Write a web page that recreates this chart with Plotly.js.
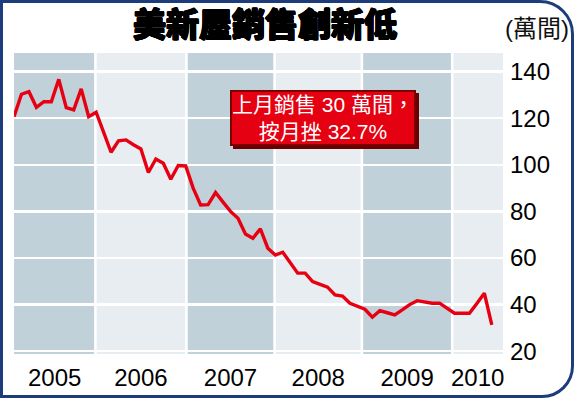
<!DOCTYPE html>
<html>
<head>
<meta charset="utf-8">
<script src="https://cdn.plot.ly/plotly-3.0.1.min.js"></script>
<style>
  html, body { margin: 0; padding: 0; background: #ffffff; }
  #wrap { position: relative; width: 574px; height: 398px; overflow: hidden; }
  #chart { position: absolute; left: 0; top: 0; width: 574px; height: 398px; }
  #frame { position: absolute; left: 0; top: 0; width: 574px; height: 398px; box-sizing: border-box;
           border: 3px solid #1c3c7c; border-top-right-radius: 34px; border-bottom-right-radius: 32px;
           pointer-events: none; }
</style>
</head>
<body>
<div id="wrap"><div id="chart"></div><div id="frame"></div></div>
<script>
// ---- data (US new home sales, 10k units, monthly Jan 2005 – May 2010) ----
const years = ['2005', '2006', '2007', '2008', '2009', '2010'];
const sales2005 = [120.7, 130.3, 131.4, 124.7, 127.1, 127.1, 136.7, 124.5, 123.6, 132.6, 120.7, 122.6];
const sales2006 = [114.0, 105.4, 110.3, 110.7, 108.6, 106.8, 96.7, 102.5, 100.7, 93.8, 99.7, 99.5];
const sales2007 = [90.0, 82.8, 82.9, 88.1, 84.0, 80.0, 77.1, 70.3, 68.5, 72.5, 64.2, 61.3];
const sales2008 = [62.5, 58.0, 53.5, 53.5, 49.9, 48.7, 47.5, 44.2, 43.7, 40.6, 39.3, 38.0];
const sales2009 = [34.6, 37.4, 36.5, 35.6, 37.7, 40.0, 41.7, 41.0, 40.6, 40.6, 38.5, 36.3];
const sales2010 = [36.3, 36.3, 40.5, 44.9, 31.3];
const yTicks = [20, 40, 60, 80, 100, 120, 140];
const titleText = '美新屋銷售創新低';
const unitText = '(萬間)';
const noteLines = ['上月銷售 30 萬間，', '按月挫 32.7%'];

const sales = [].concat(sales2005, sales2006, sales2007, sales2008, sales2009, sales2010);
const monthIdx = sales.map((_, i) => i);
const monthLabel = sales.map((_, i) => (2005 + Math.floor(i / 12)) + '-' + String(i % 12 + 1).padStart(2, '0'));

// ---- layout geometry ----
const L = 14, R = 503, T = 53, B = 354, FW = 574, FH = 398;
const PW = R - L, PH = B - T;
const px = x => (x - L) / PW;
const py = y => (B - y) / PH;

const xMax = 65.5;
const edges = [0, 10.9, 23.1, 34.9, 46.6, 58.7, xMax];   // year band boundaries (month index)
const gap = 0.17;
const dark = '#c1d1da', light = '#e8edf1';

const shapes = [];
const tickPos = [];
for (let i = 0; i < years.length; i++) {
  const a = edges[i] + (i === 0 ? 0 : gap);
  const b = edges[i + 1] - (i === years.length - 1 ? 0 : gap);
  shapes.push({
    type: 'rect', xref: 'x', yref: 'paper', x0: a, x1: b, y0: 0, y1: 1,
    fillcolor: i % 2 === 0 ? dark : light, line: { width: 0 }, layer: 'below'
  });
  tickPos.push((edges[i] + edges[i + 1]) / 2);
}

const trace = {
  type: 'scatter', mode: 'lines',
  x: monthIdx, y: sales, text: monthLabel,
  hovertemplate: '%{text}: %{y}<extra></extra>',
  line: { color: '#e60012', width: 3.4, shape: 'linear' },
  cliponaxis: true
};

const numFont = 'Liberation Sans, Arial, sans-serif';
const cjkFont = 'Liberation Sans, Noto Sans CJK TC, sans-serif';
const heavy = '0.8px 0 0 #000, -0.8px 0 0 #000, 0 0.8px 0 #000, 0 -0.8px 0 #000, 0.6px 0.6px 0 #000, -0.6px -0.6px 0 #000, 0.6px -0.6px 0 #000, -0.6px 0.6px 0 #000';

const boxX = 230, boxY = 90, boxW = 180, boxH = 50;
const layout = {
  width: FW, height: FH,
  margin: { l: L, r: FW - R, t: T, b: FH - B, pad: 0 },
  paper_bgcolor: '#ffffff', plot_bgcolor: '#ffffff',
  showlegend: false,
  title: {
    text: titleText, xref: 'container', yref: 'container',
    x: 265 / FW, xanchor: 'center', y: 1 - 25 / FH, yanchor: 'middle',
    font: { family: 'Noto Sans CJK TC, sans-serif', size: 33, color: '#000000', weight: 900, shadow: heavy }
  },
  xaxis: {
    range: [0, xMax], showgrid: false, zeroline: false, showline: false,
    tickmode: 'array', tickvals: tickPos, ticktext: years, ticks: '',
    ticklabelstandoff: 7,
    tickfont: { family: numFont, size: 24, color: '#000000' }, fixedrange: true
  },
  yaxis: {
    side: 'right', range: [18.8, 148], tickmode: 'array', tickvals: yTicks,
    showgrid: true, gridcolor: '#ffffff', gridwidth: 2.5, zeroline: false, showline: false,
    ticks: '', ticklabelstandoff: 6,
    tickfont: { family: numFont, size: 24, color: '#000000' }, fixedrange: true
  },
  shapes: shapes,
  annotations: [
    {
      xref: 'paper', yref: 'paper', x: px(537), y: py(29), xanchor: 'center', yanchor: 'middle',
      text: unitText, showarrow: false,
      font: { family: cjkFont, size: 24, color: '#111111' }
    },
    {
      xref: 'paper', yref: 'paper', x: px(boxX + 3), y: py(boxY + 3), xanchor: 'left', yanchor: 'top',
      text: ' ', showarrow: false, width: boxW, height: boxH,
      bgcolor: '#6a0000', bordercolor: '#6a0000', borderwidth: 2, borderpad: 1
    },
    {
      xref: 'paper', yref: 'paper', x: px(boxX), y: py(boxY), xanchor: 'left', yanchor: 'top',
      text: noteLines.join('<br>'), showarrow: false, width: boxW, height: boxH, align: 'center',
      bgcolor: '#e50012', bordercolor: '#7a0000', borderwidth: 2, borderpad: 1,
      font: { family: cjkFont, size: 21, color: '#ffffff' }
    }
  ]
};

Plotly.newPlot('chart', [trace], layout, { displayModeBar: false, staticPlot: true });
</script>
</body>
</html>
